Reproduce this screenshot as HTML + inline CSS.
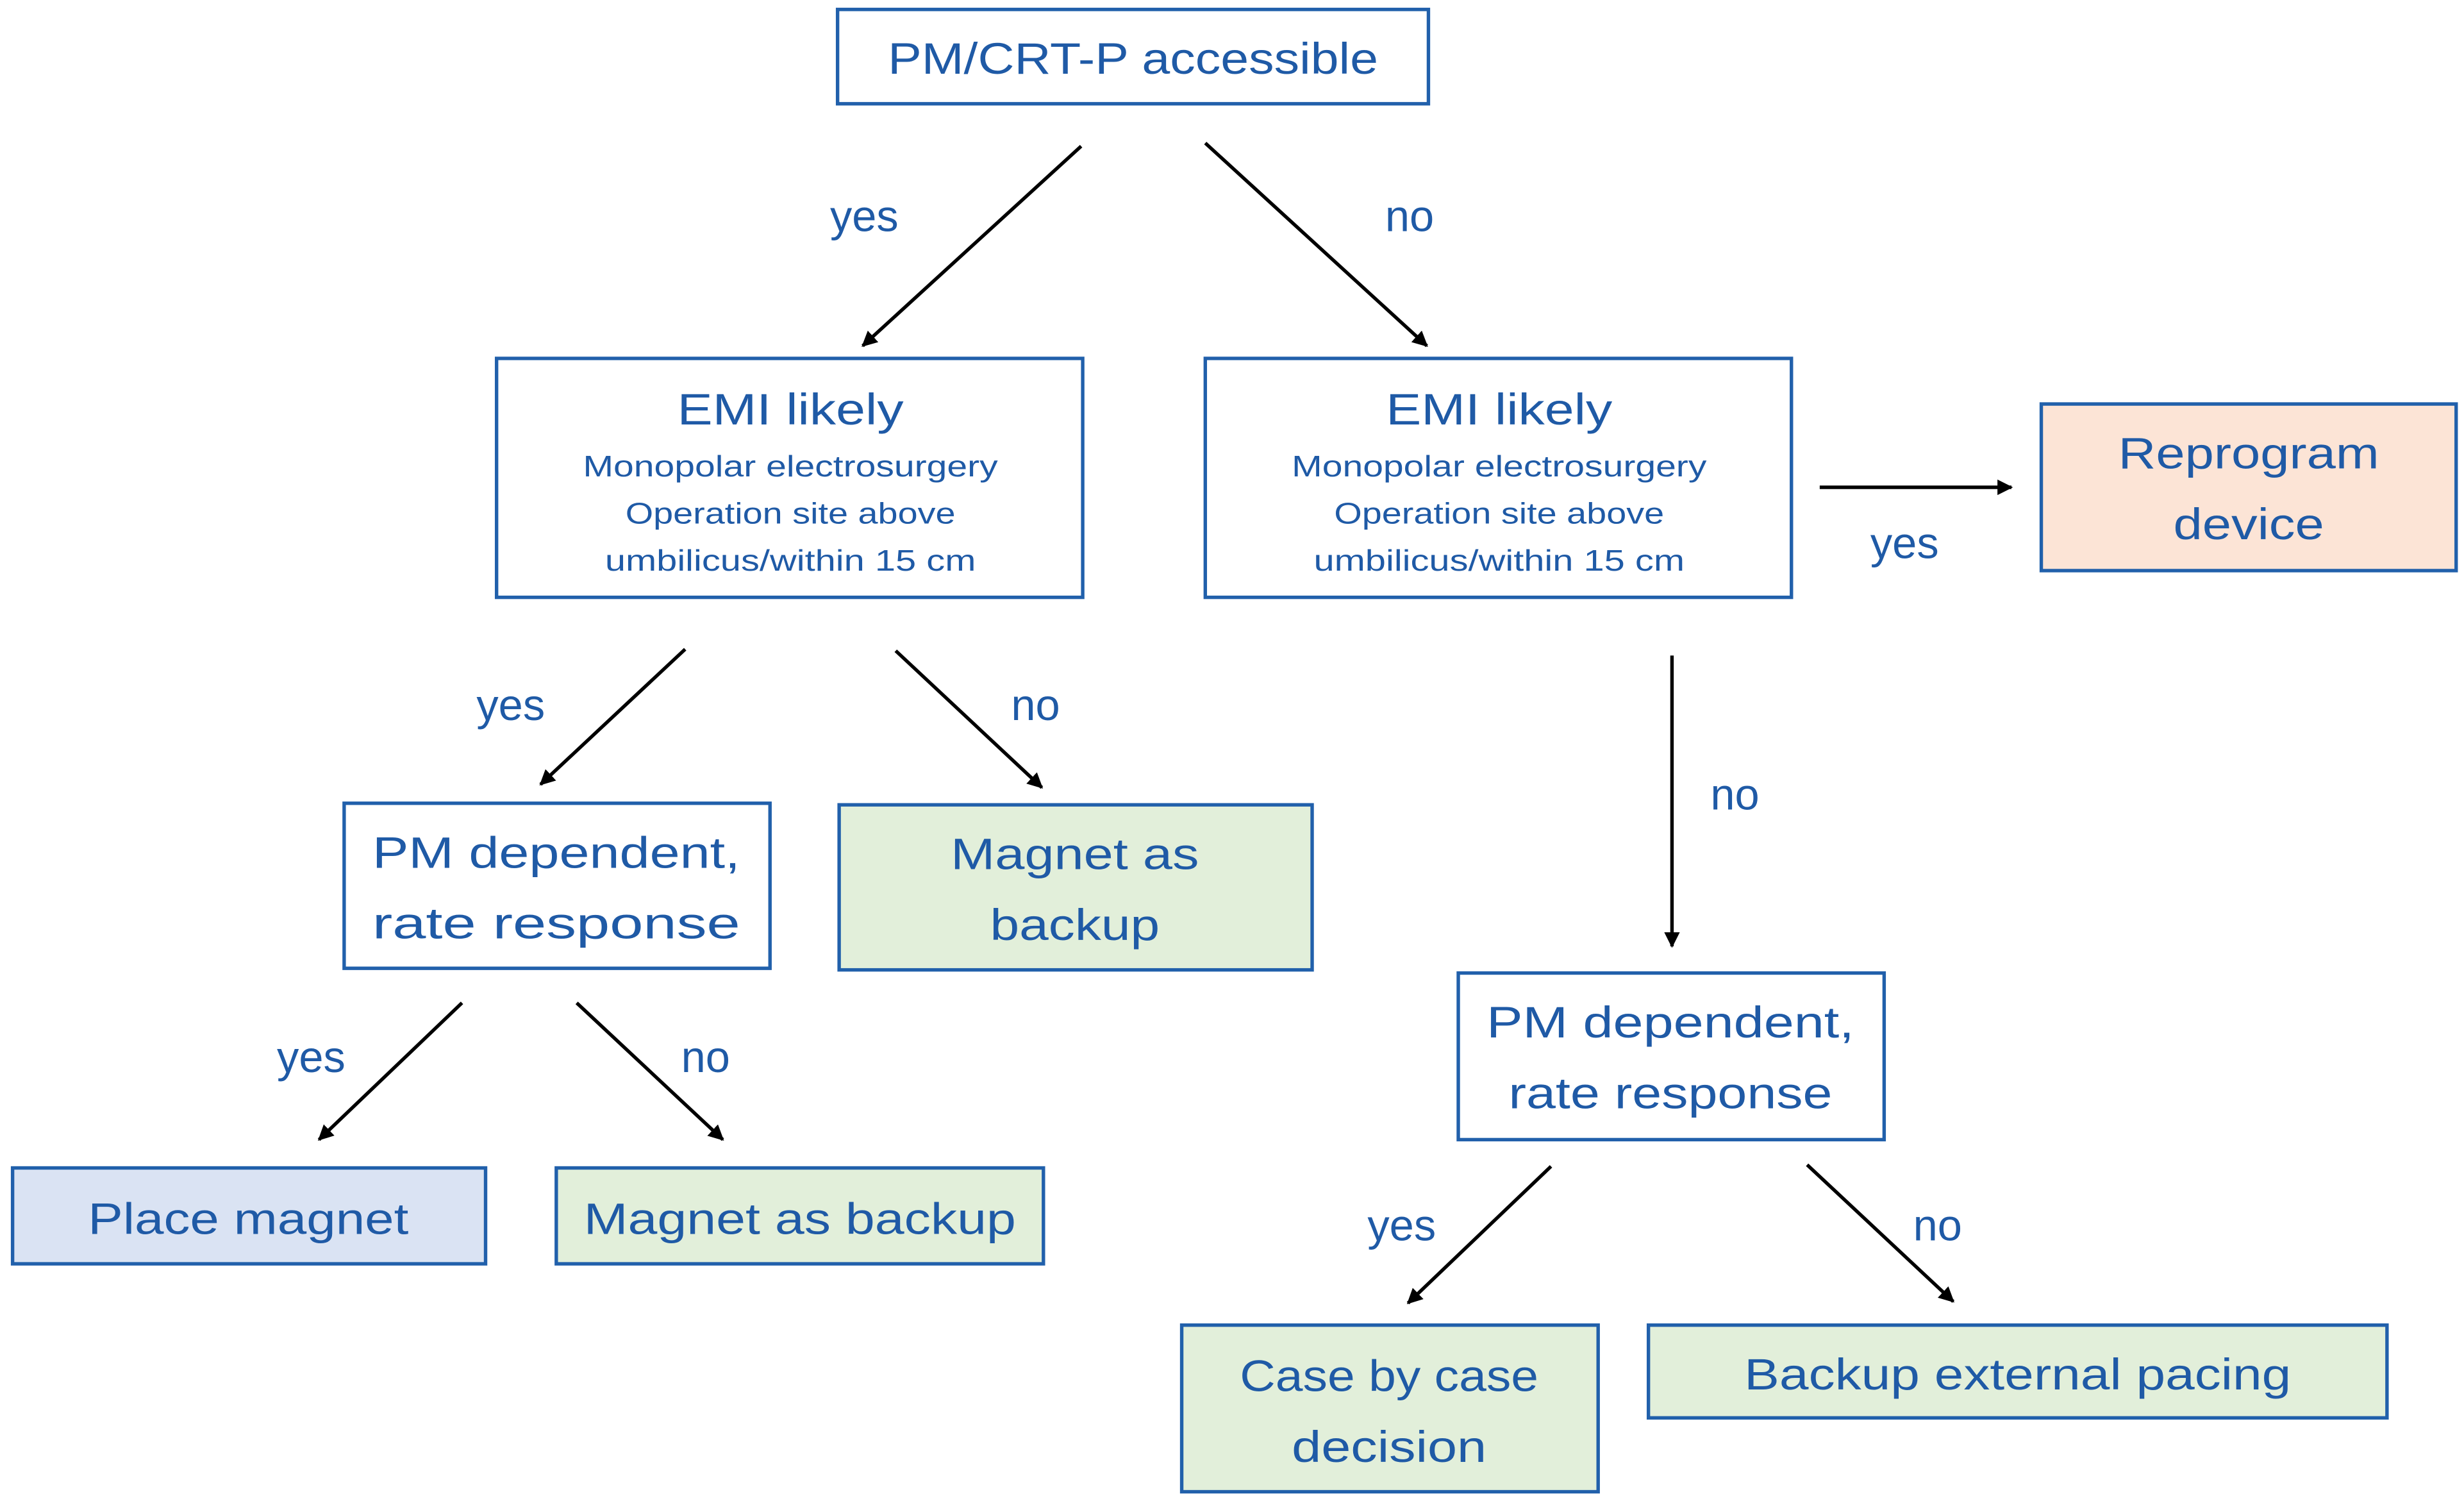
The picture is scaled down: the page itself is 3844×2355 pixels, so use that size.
<!DOCTYPE html>
<html><head><meta charset="utf-8"><style>html,body{margin:0;padding:0;background:#fff}svg{display:block}</style></head>
<body>
<svg width="3844" height="2355" viewBox="0 0 1568 960.6" xmlns="http://www.w3.org/2000/svg" font-family="Liberation Sans, sans-serif" fill="#1f5aa6">
<defs><marker id="a" viewBox="0 0 10 10" refX="9" refY="5" markerWidth="4.5" markerHeight="4.5" orient="auto"><path d="M0,0 L10,5 L0,10 z" fill="#000"/></marker></defs>
<g stroke="#2160ab" stroke-width="2.2">
<rect x="533" y="6" width="376" height="60" fill="#fff"/>
<rect x="316" y="228" width="373" height="152" fill="#fff"/>
<rect x="767" y="228" width="373" height="152" fill="#fff"/>
<rect x="1299" y="257" width="264" height="106" fill="#fce4d6"/>
<rect x="219" y="511" width="271" height="105" fill="#fff"/>
<rect x="534" y="512" width="301" height="105" fill="#e2efda"/>
<rect x="8" y="743" width="301" height="61" fill="#dae3f3"/>
<rect x="354" y="743" width="310" height="61" fill="#e2efda"/>
<rect x="928" y="619" width="271" height="106" fill="#fff"/>
<rect x="752" y="843" width="265" height="106" fill="#e2efda"/>
<rect x="1049" y="843" width="470" height="59" fill="#e2efda"/>
</g>
<g stroke="#000" stroke-width="2.2" marker-end="url(#a)">
<line x1="688" y1="93" x2="549" y2="220"/>
<line x1="767" y1="91" x2="908" y2="220"/>
<line x1="1158" y1="310" x2="1280" y2="310"/>
<line x1="436" y1="413" x2="344" y2="499"/>
<line x1="570" y1="414" x2="663" y2="501"/>
<line x1="294" y1="638" x2="203" y2="725"/>
<line x1="367" y1="638" x2="460" y2="725"/>
<line x1="1064" y1="417" x2="1064" y2="602"/>
<line x1="987" y1="742" x2="896" y2="829"/>
<line x1="1150" y1="741" x2="1243" y2="828"/>
</g>
<g text-anchor="middle" font-size="28">
<text x="721" y="47" textLength="312" lengthAdjust="spacingAndGlyphs">PM/CRT-P accessible</text>
<text x="550" y="147">yes</text><text x="897" y="147">no</text>
<text x="503" y="270" textLength="144" lengthAdjust="spacingAndGlyphs">EMI likely</text>
<text x="954" y="270" textLength="144" lengthAdjust="spacingAndGlyphs">EMI likely</text>
<text x="1212" y="355">yes</text>
<text x="1431" y="298" textLength="166" lengthAdjust="spacingAndGlyphs">Reprogram</text>
<text x="1431" y="343" textLength="96" lengthAdjust="spacingAndGlyphs">device</text>
<text x="325" y="458">yes</text><text x="659" y="458">no</text>
<text x="354" y="552" textLength="234" lengthAdjust="spacingAndGlyphs">PM dependent,</text>
<text x="354" y="597" textLength="234" lengthAdjust="spacingAndGlyphs">rate response</text>
<text x="684" y="553" textLength="158" lengthAdjust="spacingAndGlyphs">Magnet as</text>
<text x="684" y="598" textLength="108" lengthAdjust="spacingAndGlyphs">backup</text>
<text x="198" y="682">yes</text><text x="449" y="682">no</text>
<text x="158" y="785" textLength="204" lengthAdjust="spacingAndGlyphs">Place magnet</text>
<text x="509" y="785" textLength="275" lengthAdjust="spacingAndGlyphs">Magnet as backup</text>
<text x="1104" y="515">no</text>
<text x="1063" y="660" textLength="234" lengthAdjust="spacingAndGlyphs">PM dependent,</text>
<text x="1063" y="705" textLength="206" lengthAdjust="spacingAndGlyphs">rate response</text>
<text x="892" y="789">yes</text><text x="1233" y="789">no</text>
<text x="884" y="885" textLength="190" lengthAdjust="spacingAndGlyphs">Case by case</text>
<text x="884" y="930" textLength="124" lengthAdjust="spacingAndGlyphs">decision</text>
<text x="1284" y="884" textLength="348" lengthAdjust="spacingAndGlyphs">Backup external pacing</text>
</g>
<g text-anchor="middle" font-size="19">
<text x="503" y="303" textLength="264" lengthAdjust="spacingAndGlyphs">Monopolar electrosurgery</text>
<text x="503" y="333" textLength="210" lengthAdjust="spacingAndGlyphs">Operation site above</text>
<text x="503" y="363" textLength="236" lengthAdjust="spacingAndGlyphs">umbilicus/within 15 cm</text>
<text x="954" y="303" textLength="264" lengthAdjust="spacingAndGlyphs">Monopolar electrosurgery</text>
<text x="954" y="333" textLength="210" lengthAdjust="spacingAndGlyphs">Operation site above</text>
<text x="954" y="363" textLength="236" lengthAdjust="spacingAndGlyphs">umbilicus/within 15 cm</text>
</g>
</svg>
</body></html>
